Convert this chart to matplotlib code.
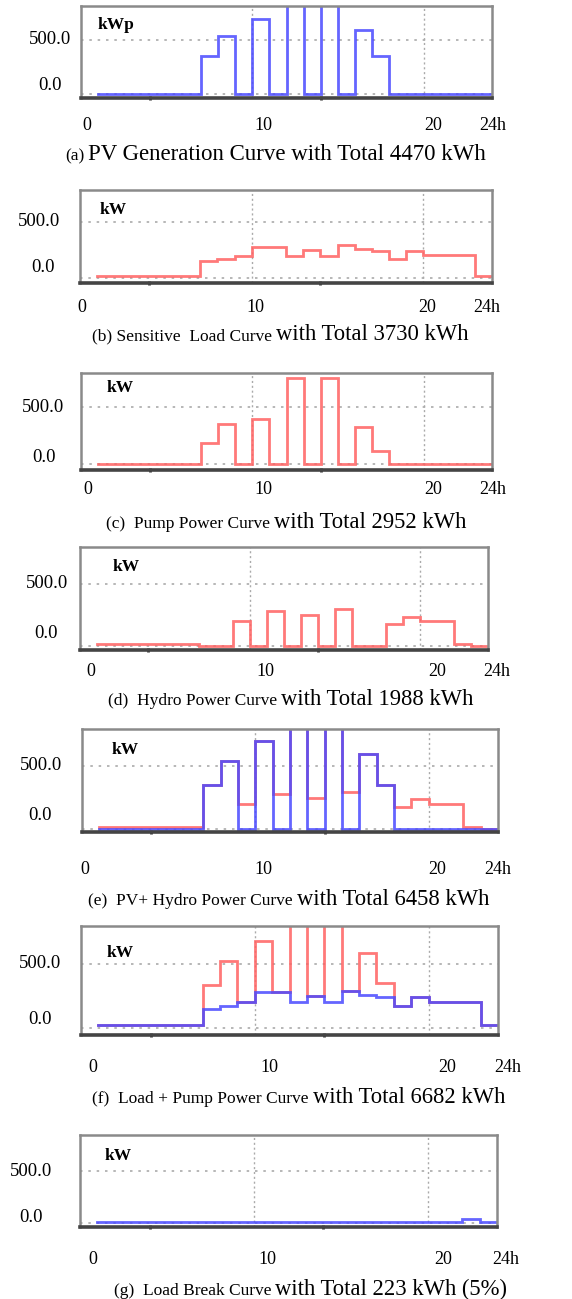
import numpy as np
import matplotlib
matplotlib.use("Agg")
import matplotlib.pyplot as plt

nan = np.nan
hours = np.arange(25)  # step edges 0..24

# hourly values (hour 0 .. 23); hour 0 not drawn
pv = [nan, 0, 0, 0, 0, 0, 0, 352, 537, 0, 694, 0, 970, 0, 970, 0, 593, 352, 0, 0, 0, 0, 0, 0]
load = [nan, 20, 20, 20, 20, 20, 20, 150, 168, 200, 278, 278, 200, 252, 200, 292, 260, 238, 172, 238, 202, 202, 202, 20]
pump = [nan, 0, 0, 0, 0, 0, 0, 189, 353, 0, 400, 0, 760, 0, 760, 0, 330, 115, 0, 0, 0, 0, 0, 0]
hydro = [nan, 18, 18, 18, 18, 18, 18, 0, 0, 200, 0, 280, 0, 250, 0, 298, 0, 0, 175, 238, 202, 202, 18, 0]
load_break = [nan] + [8] * 21 + [45, 10]

x_tick_labels = ["0", "10", "20", "24h"]
y_tick_labels = ["500.0", "0.0"]
units = ["kWp", "kW", "kW", "kW", "kW", "kW", "kW"]
captions = [
    ("(a)", "PV Generation Curve with Total 4470 kWh"),
    ("(b) Sensitive  Load Curve", "with Total 3730 kWh"),
    ("(c)  Pump Power Curve", "with Total 2952 kWh"),
    ("(d)  Hydro Power Curve", "with Total 1988 kWh"),
    ("(e)  PV+ Hydro Power Curve", "with Total 6458 kWh"),
    ("(f)  Load + Pump Power Curve", "with Total 6682 kWh"),
    ("(g)  Load Break Curve", "with Total 223 kWh (5%)"),
]

pv_a = np.array(pv, float)
load_a = np.array(load, float)
pump_a = np.array(pump, float)
hydro_a = np.array(hydro, float)
brk_a = np.array(load_break, float)

RED = "#ff6262"
BLUE = "#4a4aff"

# series per panel: list of (values, colour)
panel_series = [
    [(pv_a, BLUE)],
    [(load_a, RED)],
    [(pump_a, RED)],
    [(hydro_a, RED)],
    [(pv_a + hydro_a, RED), (pv_a, BLUE)],
    [(load_a + pump_a, RED), (load_a, BLUE)],
    [(brk_a, BLUE)],
]

W, H = 572, 1299
fig = plt.figure(figsize=(W / 100, H / 100), dpi=100)
fig.patch.set_facecolor("white")

# layout in pixels: left, right, top, bottom ; y-limits
boxes = [
    (81, 492, 6, 98), (80, 492, 190, 283), (81, 492, 373, 470),
    (80, 488, 547, 650), (82, 498, 729, 832), (81, 498, 926, 1035),
    (80, 497, 1135, 1227),
]
ylims = [(-37, 815), (-45, 786), (-50, 801), (-32, 802), (-21, 792), (-57, 798), (-35, 844)]
ylab_pos = [((50, 40), (50, 85)), ((39, 222), (43, 267)), ((43, 407), (44, 457)),
            ((47, 584), (46, 633)), ((41, 766), (40, 815)), ((40, 964), (40, 1019)),
            ((31, 1171), (31, 1218))]
unit_pos = [(98, 25), (100, 210), (107, 388), (113, 567), (112, 750), (107, 953), (105, 1156)]
xlab_y = [125, 307, 490, 672, 869, 1068, 1259]
xlab_x = [(87, 263, 433, 493), (82, 255, 427, 487), (88, 263, 433, 493), (91, 265, 437, 497),
          (85, 263, 437, 498), (93, 269, 447, 508), (93, 267, 443, 506)]
cap_pos = [(86, 155), (274, 335), (272, 523), (279, 700), (295, 900), (311, 1098), (273, 1290)]
cap_big = [16.5, 16.3, 16.3, 16.3, 16.3, 16.3, 16.3]

SERIF = ["Liberation Serif", "DejaVu Serif"]


def fx(px):
    return px / W


def fy(py):
    return 1 - py / H


for i, (l, r, t, b) in enumerate(boxes):
    ax = fig.add_axes([fx(l), fy(b), (r - l) / W, (b - t) / H])
    ax.set_xlim(0, 24)
    ax.set_ylim(*ylims[i])
    for vals, col in panel_series[i]:
        y = np.append(vals, vals[-1])
        ax.step(hours, y, where="post", color=col, lw=2.0, alpha=0.85, solid_joinstyle="miter")
    # grid
    ax.set_yticks([0, 500])
    ax.set_yticklabels([])
    ax.set_xticks([4, 14])
    ax.set_xticklabels([])
    ax.set_xticks([10, 20], minor=True)
    ax.tick_params(axis="y", length=0)
    ax.tick_params(axis="x", which="major", length=3, width=2, direction="inout", color="#333333")
    ax.tick_params(axis="x", which="minor", length=0)
    ax.grid(axis="y", which="major", color="#aaaaaa", ls=(0, (1.5, 3.5)), lw=1.2)
    ax.grid(axis="x", which="minor", color="#aaaaaa", ls=(0, (1.5, 2)), lw=1.0)
    ax.grid(axis="x", which="major", visible=False)
    for s in ["left", "top", "right"]:
        ax.spines[s].set_color("#8a8a8a")
        ax.spines[s].set_linewidth(1.8)
    ax.spines["bottom"].set_color("#444444")
    ax.spines["bottom"].set_linewidth(2.6)
    ax.set_axisbelow(True)

    # y labels
    (x5, y5), (x0, y0) = ylab_pos[i]
    fig.text(fx(x5), fy(y5), y_tick_labels[0], ha="center", va="center", family=SERIF, fontsize=13.5)
    fig.text(fx(x0), fy(y0), y_tick_labels[1], ha="center", va="center", family=SERIF, fontsize=13.5)
    # unit label
    ux, uy = unit_pos[i]
    fig.text(fx(ux), fy(uy), units[i], ha="left", va="center", family=SERIF, fontsize=12.5,
             fontweight="bold")
    # x labels
    for lab, xx in zip(x_tick_labels, xlab_x[i]):
        fig.text(fx(xx), fy(xlab_y[i]), lab, ha="center", va="center", family=SERIF, fontsize=13)
    # caption
    sx, sy = cap_pos[i]
    p1, p2 = captions[i]
    fig.text(fx(sx - 2), fy(sy + 5), p1, ha="right", va="baseline", family=SERIF, fontsize=12.5)
    fig.text(fx(sx + 2), fy(sy + 5), p2, ha="left", va="baseline", family=SERIF, fontsize=cap_big[i])

fig.savefig("out.png", dpi=100, facecolor="white")
